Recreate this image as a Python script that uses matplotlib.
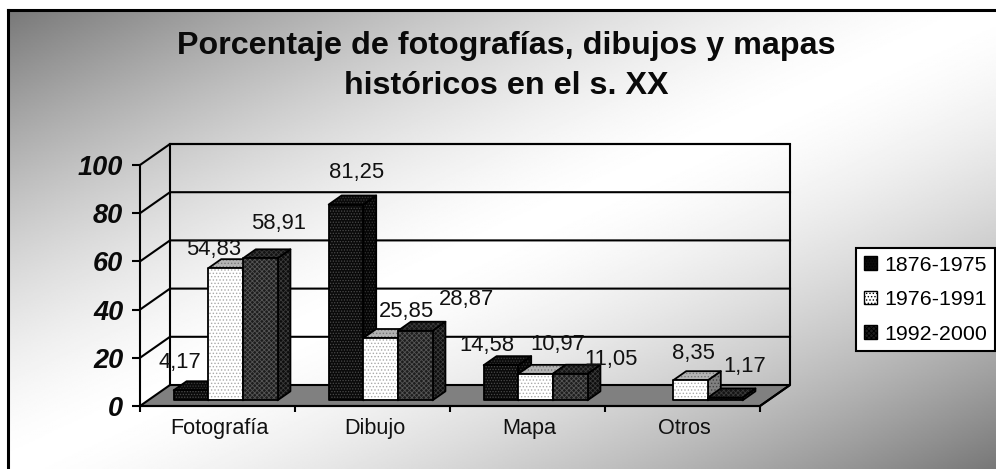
import numpy as np
import matplotlib
matplotlib.use('Agg')
import matplotlib.pyplot as plt
from matplotlib.patches import Polygon, Patch
from matplotlib.lines import Line2D

plt.rcParams['font.family'] = ['Liberation Sans', 'DejaVu Sans']
plt.rcParams['hatch.linewidth'] = 0.6

# ---- data
categories = ['Fotografía', 'Dibujo', 'Mapa', 'Otros']
series_names = ['1876-1975', '1976-1991', '1992-2000']
v1876 = [4.17, 81.25, 14.58, None]
v1976 = [54.83, 25.85, 10.97, 8.35]
v1992 = [58.91, 28.87, 11.05, 1.17]
series_values = [v1876, v1976, v1992]
yticks = [0, 20, 40, 60, 80, 100]

# ---- label offsets from top of each bar (pixels)
label_off = [
    [(-11, 28), (11, 32), (-14, 20), None],
    [(-12, 19), (26, 27), (22, 29), (3, 27)],
    [(18, 35), (51, 31), (41, 14), (20, 31)],
]

W, H = 996, 469
fig = plt.figure(figsize=(W / 100, H / 100), dpi=100, facecolor='white')

# ---- gradient background
bg = fig.add_axes([8 / W, 0, 1 - 8 / W, 1 - 10 / H], zorder=0)
xx, yy = np.meshgrid(np.linspace(0, 1, 500), np.linspace(0, 1, 300))
t = (xx + yy) / 2
g = 1 - (1 - 0.47) * np.abs(2 * t - 1) ** 1.5
bg.imshow(g, cmap='gray', vmin=0, vmax=1, aspect='auto', extent=(0, 1, 1, 0))
bg.axis('off')
fig.add_artist(Line2D([8 / W, 8 / W], [0, 1 - 10 / H], color='black', lw=2.2))
fig.add_artist(Line2D([8 / W, 1], [1 - 10 / H, 1 - 10 / H], color='black', lw=2.2))

# ---- main axes = front plane of the 3-D box
ax = fig.add_axes([140 / W, (H - 406) / H, 620 / W, 241 / H], zorder=2)
ax.patch.set_alpha(0)
n = len(categories)
ax.set_xlim(0, n)
ax.set_ylim(0, 100)
DX = 30 / 155  # depth in data units
DY = 21 / 2.41


def proj(x, y, d):
    return (x + d * DX, y + d * DY)


LW = 1.5
# floor
ax.add_patch(Polygon([proj(0, 0, 0), proj(n, 0, 0), proj(n, 0, 1), proj(0, 0, 1)],
                     closed=True, fc='#808080', ec='black', lw=LW, clip_on=False, zorder=1))
# walls
ax.plot(*zip(proj(0, 100, 1), proj(n, 100, 1), proj(n, 0, 1), proj(n, 0, 0)),
        color='black', lw=LW, clip_on=False, zorder=1.5)
ax.plot(*zip(proj(0, 0, 1), proj(0, 100, 1)), color='black', lw=LW, clip_on=False, zorder=1.5)
for yv in yticks:
    if yv > 0:
        ax.plot(*zip(proj(0, yv, 0), proj(0, yv, 1), proj(n, yv, 1)),
                color='black', lw=LW, clip_on=False, zorder=1.5)

GAP = 0.165
BW = (1 - 2 * GAP) / 3
D0, D1 = 0.27, 0.70

styles = [
    dict(front=('#0a0a0a', '#4a4a4a', '......'), top=('#0a0a0a', '#3a3a3a', '......'), side=('#050505', '#333333', '......')),
    dict(front=('#ffffff', '#a8a8a8', '.....'), top=('#b4b4b4', '#777777', '.....'), side=('#808080', '#444444', '.....')),
    dict(front=('#1e1e1e', '#555555', 'xxxxxxx'), top=('#141414', '#3a3a3a', 'xxxxxxx'), side=('#0e0e0e', '#3a3a3a', 'xxxxxxx')),
]


def face(pts, style, z):
    fc, hc, hatch = style
    ax.add_patch(Polygon(pts, closed=True, fc=fc, ec=hc, hatch=hatch, lw=0, clip_on=False, zorder=z))
    ax.add_patch(Polygon(pts, closed=True, fc='none', ec='black', lw=1.3, clip_on=False, zorder=z + 0.01,
                         joinstyle='round'))


for i in range(n):
    for k, vals in enumerate(series_values):
        v = vals[i]
        if v is None:
            continue
        x0 = i + GAP + k * BW
        x1 = x0 + BW
        z = 3 + i + k * 0.1
        st = styles[k]
        face([proj(x1, 0, D0), proj(x1, 0, D1), proj(x1, v, D1), proj(x1, v, D0)], st['side'], z)
        face([proj(x0, v, D0), proj(x1, v, D0), proj(x1, v, D1), proj(x0, v, D1)], st['top'], z + 0.02)
        face([proj(x0, 0, D0), proj(x1, 0, D0), proj(x1, v, D0), proj(x0, v, D0)], st['front'], z + 0.04)
        ax.annotate(f'{v:.2f}'.replace('.', ','),
                    xy=proj((x0 + x1) / 2, v, D0), xycoords='data',
                    xytext=label_off[k][i], textcoords='offset pixels',
                    ha='center', va='center', fontsize=15.8, color='#111111',
                    annotation_clip=False, zorder=20)

# axes decoration
for s in ('top', 'right'):
    ax.spines[s].set_visible(False)
for s in ('left', 'bottom'):
    ax.spines[s].set_linewidth(LW)
    ax.spines[s].set_zorder(2)
ax.set_yticks(yticks)
ax.set_yticklabels([str(v) for v in yticks], fontsize=19.5, fontweight='bold', fontstyle='italic', color='#0a0a0a')
ax.tick_params(axis='y', length=5.5, width=LW, pad=6.5)
ax.set_xticks(range(n + 1))
ax.set_xticklabels([''] * (n + 1))
ax.tick_params(axis='x', length=4.5, width=LW)
for i, c in enumerate(categories):
    ax.annotate(c, xy=(i + 0.5, 0), xycoords='data', xytext=(2, -22), textcoords='offset pixels',
                ha='center', va='center', fontsize=15.6, color='#111111', annotation_clip=False)

# title
fig.text(506 / W, 1 - 66 / H, 'Porcentaje de fotografías, dibujos y mapas\nhistóricos en el s. XX',
         ha='center', va='center', fontsize=23.2, fontweight='bold', color='#0a0a0a', linespacing=1.42)

# legend
handles = [Patch(facecolor=styles[k]['front'][0], edgecolor='black', lw=1.0) for k in range(3)]
leg = fig.legend(handles, series_names, loc='upper left',
                 bbox_to_anchor=(856 / W, 1 - 248 / H), bbox_transform=fig.transFigure,
                 fontsize=15.4, frameon=True, fancybox=False, framealpha=1, facecolor='white',
                 edgecolor='black', borderaxespad=0, borderpad=0.36, labelspacing=0.72,
                 handlelength=0.6, handleheight=0.6, handletextpad=0.36)
leg.get_frame().set_linewidth(1.5)
leg.set_zorder(30)
for h, k in zip(leg.get_patches(), range(3)):
    h.set_hatch(styles[k]['front'][2])

fig.savefig('out.png', dpi=100, facecolor='white')
